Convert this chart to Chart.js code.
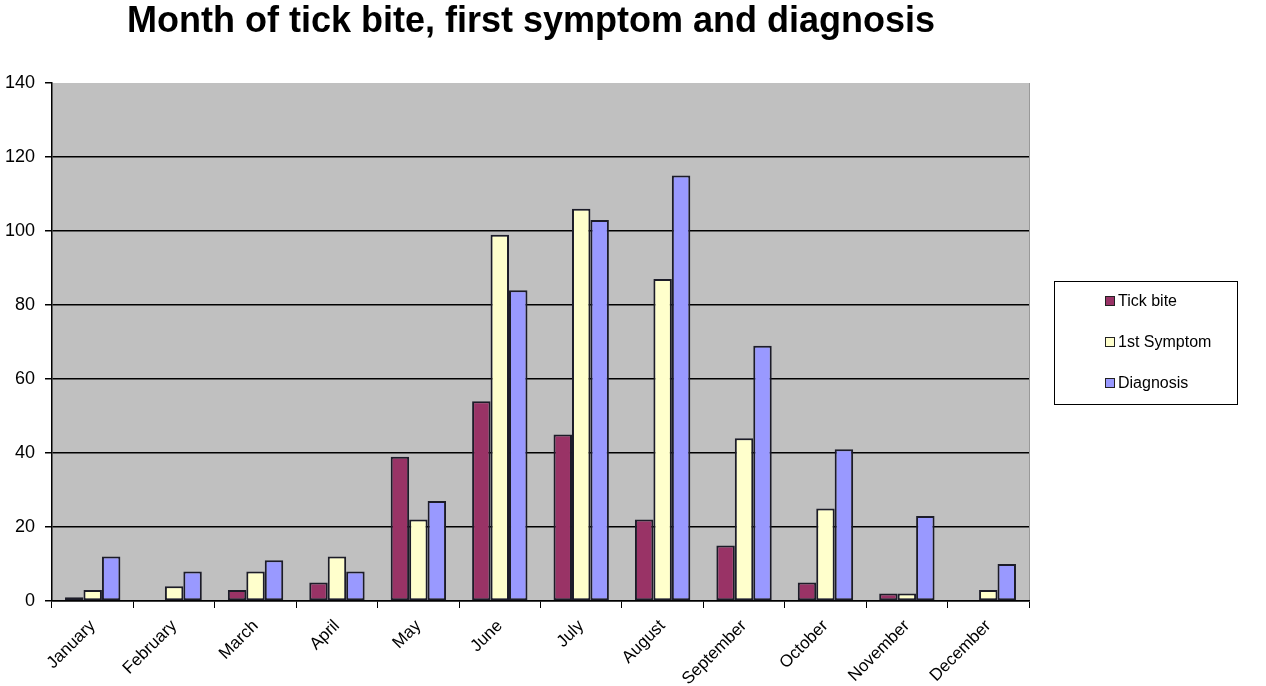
<!DOCTYPE html>
<html>
<head>
<meta charset="utf-8">
<script src="https://cdn.jsdelivr.net/npm/chart.js@4.4.1/dist/chart.umd.min.js"></script>
<style>
  html, body { margin: 0; padding: 0; background: #fff; }
  #wrap { width: 1266px; height: 686px; }
</style>
</head>
<body>
<div id="wrap"><canvas id="tickChart"></canvas></div>
<script>
// 데이터
var months = ['January', 'February', 'March', 'April', 'May', 'June', 'July', 'August', 'September', 'October', 'November', 'December'];
var tickBite  = [1, 0, 3, 5, 39, 54, 45, 22, 15, 5, 2, 0];
var symptom   = [3, 4, 8, 12, 22, 99, 106, 87, 44, 25, 2, 3];
var diagnosis = [12, 8, 11, 8, 27, 84, 103, 115, 69, 41, 23, 10];
var yTicks = [0, 20, 40, 60, 80, 100, 120, 140];
var chartTitle = 'Month of tick bite, first symptom and diagnosis';

var FONT = "'Liberation Sans', Arial, sans-serif";

// plot area background + title + boxed legend
var excelLook = {
    id: 'excelLook',
    beforeDraw: function(chart) {
        var a = chart.chartArea, ctx = chart.ctx;
        ctx.save();
        ctx.fillStyle = '#c0c0c0';
        ctx.fillRect(a.left, a.top, a.right - a.left, a.bottom - a.top);
        ctx.strokeStyle = '#999';
        ctx.lineWidth = 1;
        ctx.beginPath();
        ctx.moveTo(a.right + 0.5, a.top);
        ctx.lineTo(a.right + 0.5, a.bottom);
        ctx.stroke();
        ctx.restore();
    },
    afterDraw: function(chart) {
        var ctx = chart.ctx;
        ctx.save();
        // title
        ctx.fillStyle = '#000';
        ctx.font = 'bold 36px ' + FONT;
        ctx.textAlign = 'center';
        ctx.textBaseline = 'alphabetic';
        ctx.fillText(chartTitle, 531, 32);

        // legend
        var lx = 1054, ly = 281, lw = 183, lh = 123;
        ctx.fillStyle = '#fff';
        ctx.fillRect(lx, ly, lw, lh);
        ctx.strokeStyle = '#000';
        ctx.lineWidth = 1;
        ctx.strokeRect(lx + 0.5, ly + 0.5, lw, lh);
        ctx.font = '16px ' + FONT;
        ctx.textAlign = 'left';
        ctx.textBaseline = 'middle';
        chart.data.datasets.forEach(function(ds, i) {
            var cy = 301 + i * 41;
            ctx.fillStyle = ds.backgroundColor;
            ctx.fillRect(1105, cy - 5, 10, 10);
            ctx.strokeStyle = '#222';
            ctx.strokeRect(1105.5, cy - 4.5, 9, 9);
            ctx.fillStyle = '#000';
            ctx.fillText(ds.label, 1118, cy + 1);
        });
        ctx.restore();
    }
};

var ctx = document.getElementById('tickChart').getContext('2d');
var tickChart = new Chart(ctx, {
    type: 'bar',
    data: {
        labels: months,
        datasets: [
            { label: 'Tick bite',   data: tickBite,  backgroundColor: '#993366' },
            { label: '1st Symptom', data: symptom,   backgroundColor: '#ffffcc' },
            { label: 'Diagnosis',   data: diagnosis, backgroundColor: '#9999ff' }
        ].map(function(ds) {
            ds.borderColor = '#1c1c28';
            ds.borderWidth = 2;
            ds.borderSkipped = false;
            ds.categoryPercentage = 0.68;
            ds.barPercentage = 1.0;
            return ds;
        })
    },
    options: {
        responsive: true,
        maintainAspectRatio: false,
        animation: false,
        layout: { padding: { top: 83, right: 237, bottom: 0, left: 0 } },
        plugins: {
            legend: { display: false },
            title: { display: false },
            tooltip: { enabled: false }
        },
        scales: {
            x: {
                grid: {
                    display: true,
                    drawOnChartArea: false,
                    drawTicks: true,
                    tickLength: 7,
                    tickColor: '#000',
                    color: '#000'
                },
                border: { display: true, color: '#000', width: 1.5 },
                ticks: {
                    color: '#000',
                    font: { family: FONT, size: 17 },
                    minRotation: 45,
                    maxRotation: 45,
                    autoSkip: false,
                    padding: 8
                },
                afterFit: function(scale) { scale.height = 85; }
            },
            y: {
                min: 0,
                max: 140,
                afterBuildTicks: function(scale) {
                    scale.ticks = yTicks.map(function(v) { return { value: v }; });
                },
                grid: {
                    color: function(c) { return c.tick && c.tick.value === 140 ? 'rgba(0,0,0,0)' : '#000'; },
                    lineWidth: 1.5,
                    tickLength: 7,
                    tickColor: '#000'
                },
                border: { display: true, color: '#000', width: 1.5 },
                ticks: {
                    color: '#000',
                    font: { family: FONT, size: 18 },
                    padding: 10
                },
                afterFit: function(scale) { scale.width = 52; }
            }
        }
    },
    plugins: [excelLook]
});
</script>
</body>
</html>
